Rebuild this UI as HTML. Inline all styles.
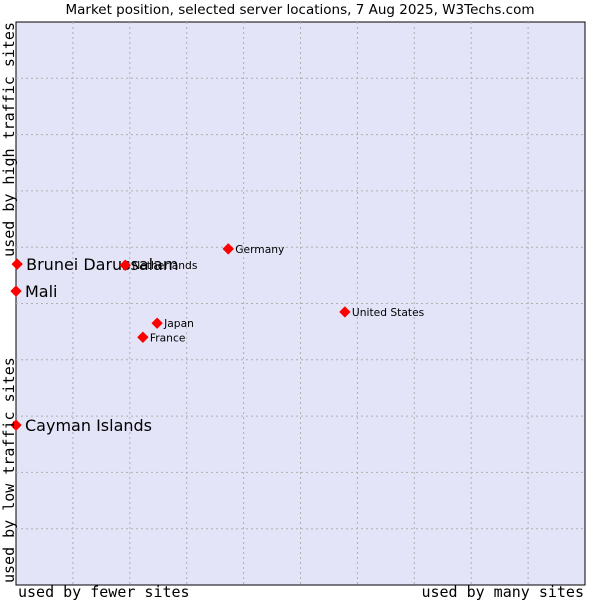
<!DOCTYPE html>
<html><head><meta charset="utf-8"><style>
body{margin:0;background:#fff;}
svg{display:block;}
</style></head><body>
<svg id="chart" width="600" height="600" xmlns="http://www.w3.org/2000/svg">
<rect x="0" y="0" width="600" height="600" fill="#fff"/>
<text x="300" y="14" text-anchor="middle" font-family="DejaVu Sans, sans-serif" font-size="13.5" fill="#000">Market position, selected server locations, 7 Aug 2025, W3Techs.com</text>
<rect x="16" y="22" width="569" height="563" fill="#e3e4f8" stroke="#000" stroke-width="1"/>
<g id="grid"></g>
<g id="points"></g>
<text transform="translate(14,22) rotate(-90)" text-anchor="end" font-family="DejaVu Sans Mono, Liberation Mono, monospace" font-size="15" fill="#000">used by high traffic sites</text>
<text transform="translate(14,583) rotate(-90)" text-anchor="start" font-family="DejaVu Sans Mono, Liberation Mono, monospace" font-size="15" fill="#000">used by low traffic sites</text>
<text x="18" y="597" font-family="DejaVu Sans Mono, Liberation Mono, monospace" font-size="15" fill="#000">used by fewer sites</text>
<text x="584" y="597" text-anchor="end" font-family="DejaVu Sans Mono, Liberation Mono, monospace" font-size="15" fill="#000">used by many sites</text>
</svg>
<script>
const names=["Brunei Darussalam","Mali","Cayman Islands","Netherlands","Germany","United States","Japan","France"];
const xVals=[0.2,0,0,19.2,37.3,57.8,24.8,22.3];
const yVals=[57.0,52.2,28.4,56.8,59.7,48.5,46.5,44.0];
const bigLabel=[true,true,true,false,false,false,false,false];
const NS="http://www.w3.org/2000/svg";
const L=16,T=22,W=569,H=563;
function sx(v){return L+v/100*W;}
function sy(v){return T+H-v/100*H;}
const grid=document.getElementById('grid');
for(let i=1;i<10;i++){
  const a=document.createElementNS(NS,'line');
  a.setAttribute('x1',sx(i*10));a.setAttribute('x2',sx(i*10));a.setAttribute('y1',T);a.setAttribute('y2',T+H);
  a.setAttribute('stroke','#b0b0b0');a.setAttribute('stroke-dasharray','2,3');
  
  
  grid.appendChild(a);
  const b=document.createElementNS(NS,'line');
  b.setAttribute('y1',sy(i*10));b.setAttribute('y2',sy(i*10));b.setAttribute('x1',L);b.setAttribute('x2',L+W);
  b.setAttribute('stroke','#b0b0b0');b.setAttribute('stroke-dasharray','2,3');
  
  
  grid.appendChild(b);
}
const pts=document.getElementById('points');
names.forEach((n,i)=>{
  const x=sx(xVals[i]),y=sy(yVals[i]);
  const d=document.createElementNS(NS,'polygon');
  d.setAttribute('points',`${x},${y-5} ${x+5},${y} ${x},${y+5} ${x-5},${y}`);
  d.setAttribute('fill','#f00');
  d.setAttribute('stroke','#f00');
  d.setAttribute('stroke-width','1');
  d.setAttribute('stroke-linejoin','round');
  
  
  pts.appendChild(d);
  const t=document.createElementNS(NS,'text');
  t.setAttribute('x',x+(bigLabel[i]?9:7));
  t.setAttribute('y',y+(bigLabel[i]?6:4));
  t.setAttribute('font-family','DejaVu Sans, sans-serif');
  t.setAttribute('font-size',bigLabel[i]?'16':'10.7');
  t.setAttribute('fill','#000');
  t.textContent=n;
  
  
  pts.appendChild(t);
});
</script>
</body></html>
